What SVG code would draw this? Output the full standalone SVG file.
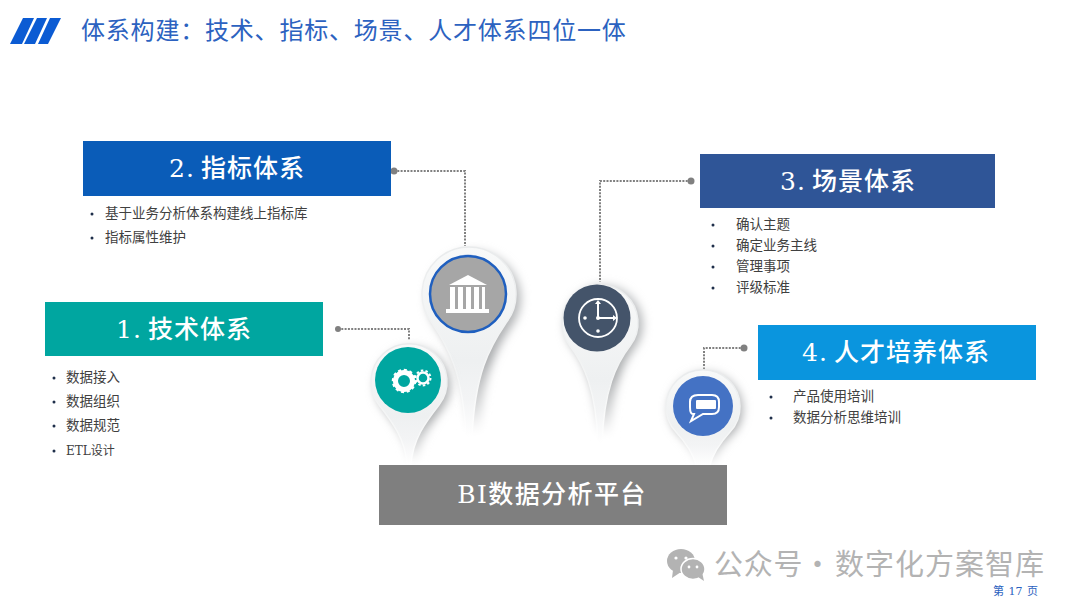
<svg xmlns="http://www.w3.org/2000/svg" width="1080" height="608" viewBox="0 0 1080 608">
<style>
text{font-family:"DejaVu Serif","Noto Sans CJK SC",serif}
.h{font-size:25px;font-weight:500;fill:#fff;text-anchor:middle;letter-spacing:1px;word-spacing:-3px;font-family:"DejaVu Serif","Noto Sans CJK SC",serif}
.b{font-size:13.5px;fill:#404040;font-family:"Noto Sans CJK SC",sans-serif}
.e{font-size:12px;fill:#404040}
.dot{fill:#1f2f4a}
.lead{fill:none;stroke:#808080;stroke-width:2;stroke-dasharray:2 1.3}
.end{fill:#808080}
.pin{fill:url(#pg);stroke:url(#ps);stroke-width:1.5}
.sh{fill:url(#sg);filter:url(#bl)}
.ic{fill:#fff}
.il{fill:none;stroke:#fff}
.wm{font-size:29px;font-family:"Noto Sans CJK SC",sans-serif}
</style>
<defs>
<linearGradient id="pg" x1="0" y1="0" x2="0" y2="1"><stop offset="0" stop-color="#f8f9f9"/><stop offset=".6" stop-color="#eef0f1"/><stop offset=".8" stop-color="#f3f4f5"/><stop offset="1" stop-color="#fff"/></linearGradient>
<linearGradient id="ps" x1="0" y1="0" x2="0" y2="1"><stop offset="0" stop-color="#e9ebec"/><stop offset=".7" stop-color="#f6f7f7"/><stop offset="1" stop-color="#fff"/></linearGradient>
<linearGradient id="sg" x1="0" y1="0" x2="0" y2="1"><stop offset="0" stop-color="#c4c6c8"/><stop offset=".6" stop-color="#a8aaac"/><stop offset=".85" stop-color="#d5d6d7"/><stop offset="1" stop-color="#fff"/></linearGradient>
<filter id="bl" x="-30%" y="-30%" width="160%" height="160%"><feGaussianBlur stdDeviation="5"/></filter>
</defs>
<rect width="1080" height="608" fill="#fff"/>
<g id="logo" fill="#0b5bd3"><path d="M10 44 23 18H34L22 44Z"/><path d="M24 44 37 18H47L35 44Z"/><path d="M38 44 50 18H61L48 44Z"/></g>
<text x="81" y="39" font-size="24" fill="#2c62c0" letter-spacing=".8" style="font-family:'Noto Sans CJK SC',sans-serif">体系构建：技术、指标、场景、人才体系四位一体</text>

<g id="connectors">
<path class="lead" d="M394 171H465V246"/><circle class="end" cx="394" cy="171" r="3.5"/>
<path class="lead" d="M691 181H600V282"/><circle class="end" cx="691" cy="181" r="3.5"/>
<path class="lead" d="M338 329H409V340"/><circle class="end" cx="338" cy="329" r="3"/>
<path class="lead" d="M744 348H704V370"/><circle class="end" cx="744" cy="348" r="3.5"/>
</g>

<g id="pin-bank">
<path class="sh" transform="translate(474,298)" d="M-37 29A47 47 0 1 1 37 29C20 54 8 80 6 134H-6C-8 80-20 54-37 29Z"/>
<path class="pin" transform="translate(469,294)" d="M-37 29A47 47 0 1 1 37 29C20 54 6 80 3 143H-3C-6 80-20 54-37 29Z"/>
<circle cx="468" cy="294" r="38" fill="#a6a6a6" stroke="#1f5fbf" stroke-width="2.5"/>
<g class="ic"><path d="M449 285 468 275 487 285Z"/><rect x="450" y="287" width="5" height="22"/><rect x="458" y="287" width="5" height="22"/><rect x="466" y="287" width="5" height="22"/><rect x="474" y="287" width="5" height="22"/><rect x="482" y="287" width="3" height="22"/><rect x="446" y="309" width="43" height="4"/></g>
</g>
<g id="pin-gear">
<path class="sh" transform="translate(413,382)" d="M-30 26A38 38 0 1 1 30 26C16 44 6 58 4 80H-4C-6 58-16 44-30 26Z"/>
<path class="pin" transform="translate(409,379)" d="M-30 26A38 38 0 1 1 30 26C16 44 4 60 2 85H-2C-4 60-16 44-30 26Z"/>
<circle cx="408" cy="380" r="33" fill="#00a6a0"/>
<circle cx="404" cy="381" r="8.5" class="il" stroke-width="5"/><circle cx="404" cy="381" r="11" class="il" stroke-width="2.5" stroke-dasharray="3 2.7"/>
<circle cx="423" cy="378" r="5.5" class="il" stroke-width="2.5"/><circle cx="423" cy="378" r="7.5" class="il" stroke-width="2" stroke-dasharray="2.5 2.2"/>
</g>
<g id="pin-clock">
<path class="sh" transform="translate(604,323)" d="M-30 26A39 39 0 1 1 30 26C16 44 8 70 6 112H-6C-8 70-16 44-30 26Z"/>
<path class="pin" transform="translate(600,320)" d="M-30 26A38 38 0 1 1 30 26C16 44 4 70 2 123H-2C-4 70-16 44-30 26Z"/>
<circle cx="597" cy="318" r="33.5" fill="#44546a"/>
<circle cx="598" cy="318" r="19" class="il" stroke-width="1.8"/>
<path class="il" stroke-width="2" d="M598 318V303M598 318H614"/><path class="ic" d="M595 304 598 300 601 304ZM613 315 617 318 613 321Z"/><circle class="ic" cx="598" cy="318" r="2"/><circle class="ic" cx="585" cy="318" r="1.8"/><circle class="ic" cx="598" cy="331" r="1.8"/>
</g>
<g id="pin-chat">
<path class="sh" transform="translate(706,409)" d="M-26 26A37 37 0 1 1 26 26C16 36 10 46 8 56H-8C-10 46-16 36-26 26Z"/>
<path class="pin" transform="translate(703,407)" d="M-27 25A37 37 0 1 1 27 25C17 36 10 46 7 58H-7C-10 46-17 36-27 25Z"/>
<circle cx="703" cy="406" r="30" fill="#4472c4"/>
<path class="il" stroke-width="2" d="M698 395H712Q719 395 719 402V407Q719 414 712 414H703L691 421 694 414H693Q690 414 690 407V402Q690 395 698 395Z"/><rect class="ic" x="696" y="400" width="20" height="9" rx="1"/>
</g>

<g id="node-1"><rect x="45" y="302" width="278" height="54" fill="#00a6a0"/><text class="h" x="184" y="338">1. 技术体系</text>
<circle class="dot" cx="54" cy="378" r="1.5"/><text class="b" x="66" y="382">数据接入</text><circle class="dot" cx="54" cy="402" r="1.5"/><text class="b" x="66" y="406">数据组织</text><circle class="dot" cx="54" cy="426" r="1.5"/><text class="b" x="66" y="430">数据规范</text><circle class="dot" cx="54" cy="451" r="1.5"/><text class="e" x="66" y="455">ETL设计</text></g>
<g id="node-2"><rect x="83" y="141" width="308" height="55" fill="#0a5cb8"/><text class="h" x="237" y="177">2. 指标体系</text>
<circle class="dot" cx="92" cy="214" r="1.5"/><text class="b" x="105" y="218">基于业务分析体系构建线上指标库</text><circle class="dot" cx="92" cy="238" r="1.5"/><text class="b" x="105" y="242">指标属性维护</text></g>
<g id="node-3"><rect x="700" y="154" width="295" height="54" fill="#2f5597"/><text class="h" x="848" y="190">3. 场景体系</text>
<circle class="dot" cx="713" cy="225" r="1.5"/><text class="b" x="736" y="229">确认主题</text><circle class="dot" cx="713" cy="246" r="1.5"/><text class="b" x="736" y="250">确定业务主线</text><circle class="dot" cx="713" cy="267" r="1.5"/><text class="b" x="736" y="271">管理事项</text><circle class="dot" cx="713" cy="288" r="1.5"/><text class="b" x="736" y="292">评级标准</text></g>
<g id="node-4"><rect x="758" y="325" width="278" height="55" fill="#0a95de"/><text class="h" x="896" y="361">4. 人才培养体系</text>
<circle class="dot" cx="771" cy="397" r="1.5"/><text class="b" x="793" y="401">产品使用培训</text><circle class="dot" cx="771" cy="418" r="1.5"/><text class="b" x="793" y="422">数据分析思维培训</text></g>
<g id="platform"><rect x="379" y="465" width="348" height="60" fill="#7f7f7f"/><text class="h" x="552" y="503" style="letter-spacing:1.4px">BI数据分析平台</text></g>

<g id="watermark" fill="#b3b3b3">
<ellipse cx="681" cy="561" rx="14" ry="12"/><path d="M673 570 672 578 681 572Z"/><ellipse cx="693" cy="569" rx="12" ry="10.5" stroke="#fff" stroke-width="1.5"/><path d="M698 577 704 581 702 572Z"/>
<g fill="#fff"><circle cx="676" cy="558" r="1.6"/><circle cx="686" cy="558" r="1.6"/><circle cx="689" cy="567" r="1.4"/><circle cx="697" cy="567" r="1.4"/></g>
<text class="wm" x="714" y="575" letter-spacing=".8">公众号</text><text class="wm" x="803" y="575">·</text><text class="wm" x="835" y="575" letter-spacing="1">数字化方案智库</text>
</g>
<text x="993" y="595" font-size="11" fill="#2c62c0" style="word-spacing:1px">第 17 页</text>
</svg>
